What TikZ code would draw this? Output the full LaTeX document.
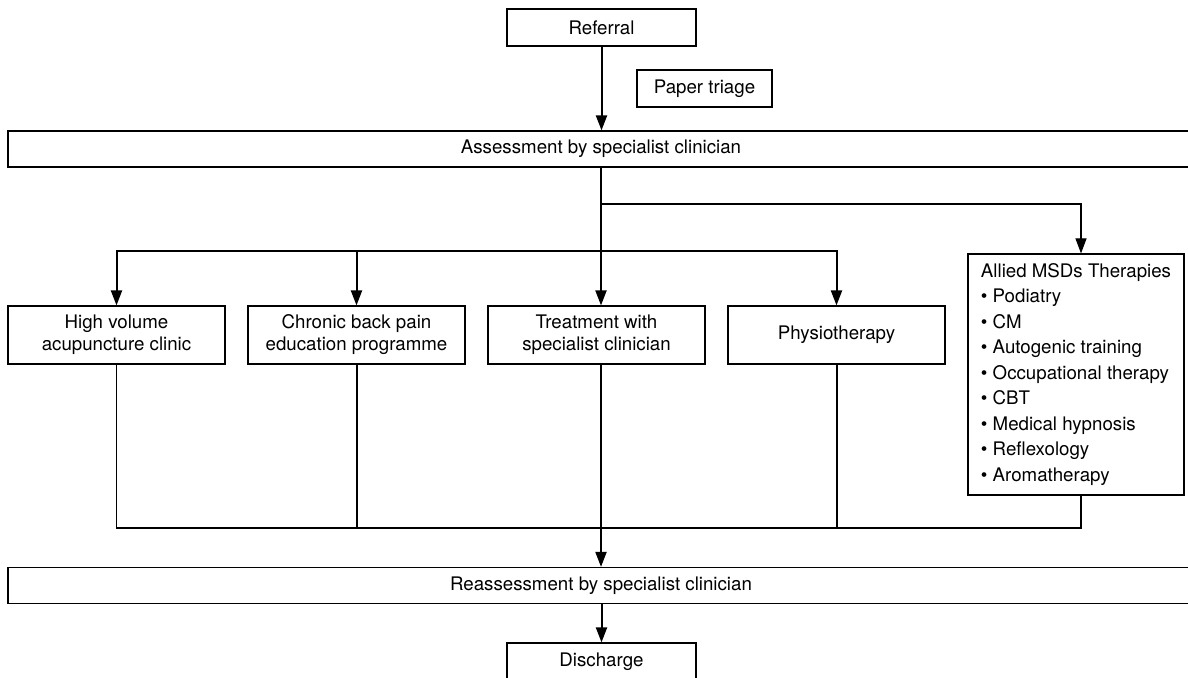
\documentclass[tikz,border=0pt]{standalone}
\usepackage{fontspec}
\setmainfont{TeX Gyre Heros}
\usetikzlibrary{arrows.meta,positioning}

\begin{document}
\begin{tikzpicture}[x=0.5pt, y=-0.5pt,
  box/.style={rectangle, draw, line width=0.6pt, align=center, inner sep=0pt, font=\fontsize{9.35}{11}\selectfont},
  wide/.style={box, minimum width=593pt, minimum height=18pt},
  small/.style={box, minimum width=94.5pt, minimum height=18.5pt},
  opt/.style={box, minimum width=108.5pt, minimum height=29pt},
  bold/.style={line width=1pt},
  thinline/.style={line width=0.55pt},
  arr/.style={-{Triangle[length=7.5pt, width=5.5pt]}}
]
  \useasboundingbox (0,0) rectangle (1188,677);

  \node[small] (ref) at (601.5,27.5) {Referral};
  \node[box, minimum width=67.5pt, minimum height=18.5pt] (triage) at (704.5,88.5) {Paper triage};
  \node[wide] (assess) at (601,149) {Assessment by specialist clinician};

  % treatment options
  \node[opt] (hv) at (116.5,335) {High volume\\acupuncture clinic};
  \node[opt] (cb) at (356.5,335) {Chronic back pain\\education programme};
  \node[opt] (tr) at (596.5,335) {Treatment with\\specialist clinician};
  \node[opt] (ph) at (836.5,335) {Physiotherapy};
  \node[box, align=left, minimum width=108pt, minimum height=120.5pt,
        font=\fontsize{9.35}{12.75}\selectfont] (allied) at (1076,374.5)
    {Allied MSDs Therapies\\
     \textbullet\ Podiatry\\
     \textbullet\ CM\\
     \textbullet\ Autogenic training\\
     \textbullet\ Occupational therapy\\
     \textbullet\ CBT\\
     \textbullet\ Medical hypnosis\\
     \textbullet\ Reflexology\\
     \textbullet\ Aromatherapy};

  \node[wide] (reassess) at (601,585.5) {Reassessment by specialist clinician};
  \node[small] (dis) at (601.5,661.5) {Discharge};

  \coordinate (split) at (601,204);
  \coordinate (bus) at (601,251);
  \coordinate (join) at (601,528);
  \coordinate (alliedin) at ([xshift=2.5pt]allied.north);

  % connectors
  \draw[bold, arr] (ref.south) -- (ref.south |- assess.north);
  \draw[bold, arr] (assess.south) -- (tr.north -| assess.south);
  \draw[thinline, arr] (split) -| (alliedin);
  \foreach \n in {hv,cb,ph}
    \draw[bold, arr] (bus) -| (\n.north);
  \draw[thinline] (hv.south) |- (join);
  \draw[thinline] ([xshift=2.5pt]allied.south) |- (join);
  \foreach \n in {cb,ph}
    \draw[bold] (\n.south) |- (join);
  \draw[bold, arr] (tr.south -| assess.south) -- (reassess.north -| assess.south);
  \draw[bold, arr] (reassess.south -| dis.north) -- (dis.north);
\end{tikzpicture}
\end{document}
